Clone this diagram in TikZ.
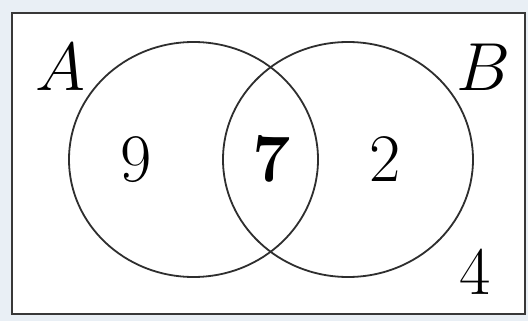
\RequirePackage{fix-cm}
\documentclass[tikz,border=0pt]{standalone}
\usepackage{amsmath}
\definecolor{paneblue}{RGB}{233,239,245}
\begin{document}
\begin{tikzpicture}[x=1pt,y=-1pt,
    setlabel/.style={font=\fontsize{68}{80}\selectfont},
    countlabel/.style={font=\fontsize{68}{80}\selectfont}]

% background and frame
\fill[paneblue] (0,0) rectangle (528,321);
\useasboundingbox (0,0) rectangle (528,321);
\draw[line width=2.6pt, black!78, fill=white] (12,13) rectangle (525,314);

% sets
\draw[line width=1.8pt, black!82] (193.5,159.5) ellipse (124.5 and 117.5);
\draw[line width=1.8pt, black!82] (348,159.5) ellipse (125 and 117.5);

% labels
\node[setlabel] (lblA) at (60,67) {$A$};
\node[setlabel] (lblB) at (484,67) {$B$};

% counts
\node[countlabel] (onlyA) at (136,160) {$9$};
\node[countlabel] (both) at (272,160) {$\mathbf{7}$};
\node[countlabel] (onlyB) at (385,160) {$2$};
\node[countlabel] (none) at (475,273) {$4$};

\end{tikzpicture}
\end{document}
